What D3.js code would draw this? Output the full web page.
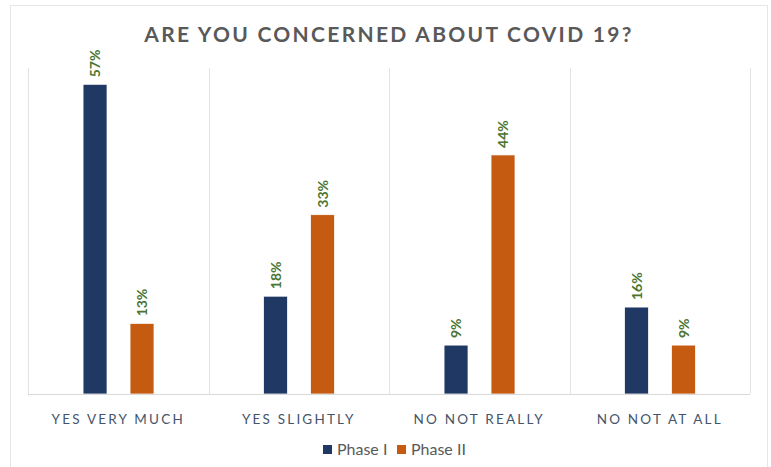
<!DOCTYPE html>
<html>
<head>
<meta charset="utf-8">
<script src="https://cdn.jsdelivr.net/npm/d3@7"></script>
<style>
  body { margin: 0; background: #fff; }
  svg { display: block; font-family: Lato, "Open Sans", sans-serif; }
</style>
</head>
<body>
<script>
var categories = ["YES VERY MUCH", "YES SLIGHTLY", "NO NOT REALLY", "NO NOT AT ALL"];
var series = ["Phase I", "Phase II"];
var phase1 = [57, 18, 9, 16];
var phase2 = [13, 33, 44, 9];
var colors = ["#203864", "#c55a11"];

var width = 771, height = 467;
var margin = {top: 68, right: 21, bottom: 73, left: 28};

var svg = d3.select("body").append("svg")
    .attr("width", width)
    .attr("height", height);

// outer chart frame
svg.append("rect")
    .attr("x", 10.5).attr("y", 5.5)
    .attr("width", 757).attr("height", 470)
    .attr("fill", "#fff")
    .attr("stroke", "#e6e6e6");

svg.append("text")
    .attr("x", 389).attr("y", 42)
    .attr("text-anchor", "middle")
    .style("font-size", "21px")
    .style("font-weight", "bold")
    .style("letter-spacing", "2.3px")
    .style("fill", "#595959")
    .text("ARE YOU CONCERNED ABOUT COVID 19?");

var x = d3.scaleBand()
    .domain(categories)
    .range([margin.left, width - margin.right]);

var bw = x.bandwidth();
var x1 = d3.scaleBand()
    .domain(series)
    .range([bw * 0.305, bw * 0.698])
    .paddingInner(0.49);

var y = d3.scaleLinear()
    .domain([0, 60])
    .range([height - margin.bottom, margin.top]);

// vertical separators between categories
var edges = categories.map(function(c){ return x(c); }).concat([x.range()[1]]);
svg.append("g").selectAll("line")
    .data(edges).enter().append("line")
    .attr("x1", function(d){ return Math.round(d) + 0.5; })
    .attr("x2", function(d){ return Math.round(d) + 0.5; })
    .attr("y1", margin.top)
    .attr("y2", y(0))
    .attr("stroke", "#e3e3e3");

var rows = categories.map(function(c, i){
    return {cat: c, values: [
        {s: series[0], v: phase1[i]},
        {s: series[1], v: phase2[i]}
    ]};
});

var groups = svg.append("g").selectAll("g")
    .data(rows).enter().append("g")
    .attr("transform", function(d){ return "translate(" + x(d.cat) + ",0)"; });

groups.selectAll("rect")
    .data(function(d){ return d.values; }).enter().append("rect")
    .attr("x", function(d){ return x1(d.s); })
    .attr("y", function(d){ return y(d.v); })
    .attr("width", x1.bandwidth())
    .attr("height", function(d){ return y(0) - y(d.v); })
    .attr("fill", function(d, i){ return colors[i]; })
    .attr("stroke", "#fff")
    .attr("stroke-width", 0.75);

groups.selectAll("text")
    .data(function(d){ return d.values; }).enter().append("text")
    .attr("transform", function(d){
        var cx = x1(d.s) + x1.bandwidth() / 2 + 5;
        return "translate(" + cx + "," + (y(d.v) - 7) + ") rotate(-90)";
    })
    .style("font-size", "14px")
    .style("font-weight", "bold")
    .style("fill", "#4a7530")
    .text(function(d){ return d.v + "%"; });

// baseline
svg.append("line")
    .attr("x1", margin.left).attr("x2", width - margin.right)
    .attr("y1", y(0) + 0.5).attr("y2", y(0) + 0.5)
    .attr("stroke", "#d9d9d9");

var xAxis = svg.append("g")
    .attr("transform", "translate(0," + y(0) + ")")
    .call(d3.axisBottom(x).tickSize(0).tickPadding(20));
xAxis.select(".domain").remove();
xAxis.selectAll("text")
    .style("font-family", "Lato, 'Open Sans', sans-serif")
    .style("font-size", "13.5px")
    .style("letter-spacing", "2.2px")
    .style("fill", "#44546a");

var legend = svg.append("g").attr("transform", "translate(323,445)");
var items = legend.selectAll("g")
    .data(series).enter().append("g")
    .attr("transform", function(d, i){ return "translate(" + (i * 74) + ",0)"; });
items.append("rect")
    .attr("width", 9).attr("height", 9)
    .attr("fill", function(d, i){ return colors[i]; });
items.append("text")
    .attr("x", 14).attr("y", 10)
    .style("font-size", "16px")
    .style("fill", "#595959")
    .text(function(d){ return d; });
</script>
</body>
</html>
